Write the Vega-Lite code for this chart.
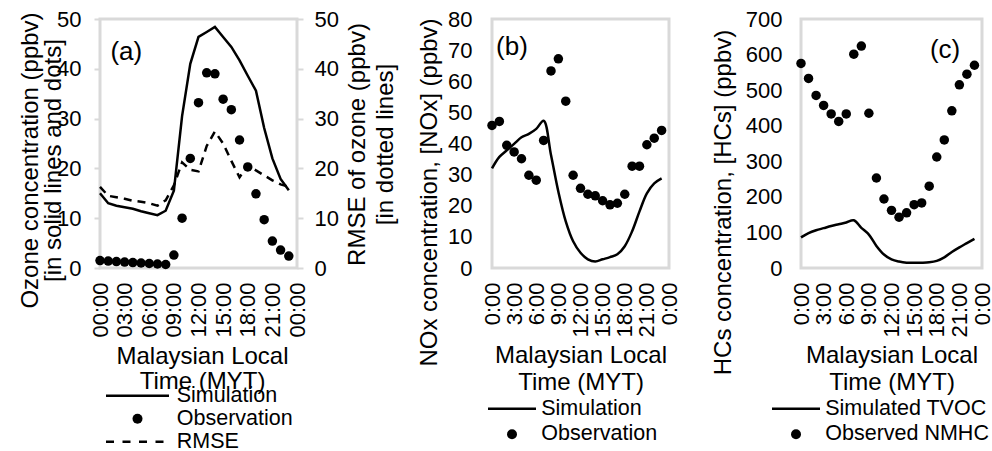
{
  "$schema": "https://vega.github.io/schema/vega-lite/v6.json",
  "padding": {"left": 16, "top": 6, "right": 0, "bottom": 0},
  "background": "white",
  "datasets": {
    "a": [
      {"hour":0,"series":"Simulation","value":15.0},{"hour":1,"series":"Simulation","value":13.0},{"hour":2,"series":"Simulation","value":12.5},{"hour":3,"series":"Simulation","value":12.2},{"hour":4,"series":"Simulation","value":11.9},{"hour":5,"series":"Simulation","value":11.4},{"hour":6,"series":"Simulation","value":11.0},{"hour":7,"series":"Simulation","value":10.6},{"hour":8,"series":"Simulation","value":11.5},{"hour":9,"series":"Simulation","value":15.5},{"hour":10,"series":"Simulation","value":30.5},{"hour":11,"series":"Simulation","value":41.0},{"hour":12,"series":"Simulation","value":46.4},{"hour":13,"series":"Simulation","value":47.4},{"hour":14,"series":"Simulation","value":48.4},{"hour":15,"series":"Simulation","value":46.4},{"hour":16,"series":"Simulation","value":44.4},{"hour":17,"series":"Simulation","value":41.7},{"hour":18,"series":"Simulation","value":38.6},{"hour":19,"series":"Simulation","value":35.6},{"hour":20,"series":"Simulation","value":28.1},{"hour":21,"series":"Simulation","value":22.0},{"hour":22,"series":"Simulation","value":17.9},{"hour":23,"series":"Simulation","value":15.6},
      {"hour":0,"series":"Observation","value":1.5},{"hour":1,"series":"Observation","value":1.4},{"hour":2,"series":"Observation","value":1.3},{"hour":3,"series":"Observation","value":1.2},{"hour":4,"series":"Observation","value":1.1},{"hour":5,"series":"Observation","value":1.0},{"hour":6,"series":"Observation","value":0.9},{"hour":7,"series":"Observation","value":0.8},{"hour":8,"series":"Observation","value":0.7},{"hour":9,"series":"Observation","value":2.6},{"hour":10,"series":"Observation","value":10.0},{"hour":11,"series":"Observation","value":22.0},{"hour":12,"series":"Observation","value":33.2},{"hour":13,"series":"Observation","value":39.2},{"hour":14,"series":"Observation","value":39.0},{"hour":15,"series":"Observation","value":33.9},{"hour":16,"series":"Observation","value":31.8},{"hour":17,"series":"Observation","value":25.7},{"hour":18,"series":"Observation","value":20.3},{"hour":19,"series":"Observation","value":14.9},{"hour":20,"series":"Observation","value":9.7},{"hour":21,"series":"Observation","value":5.4},{"hour":22,"series":"Observation","value":3.6},{"hour":23,"series":"Observation","value":2.4},
      {"hour":0,"series":"RMSE","value":16.3},{"hour":1,"series":"RMSE","value":14.5},{"hour":2,"series":"RMSE","value":14.2},{"hour":3,"series":"RMSE","value":13.9},{"hour":4,"series":"RMSE","value":13.5},{"hour":5,"series":"RMSE","value":13.3},{"hour":6,"series":"RMSE","value":13.0},{"hour":7,"series":"RMSE","value":12.5},{"hour":8,"series":"RMSE","value":13.6},{"hour":9,"series":"RMSE","value":16.6},{"hour":10,"series":"RMSE","value":21.2},{"hour":11,"series":"RMSE","value":19.7},{"hour":12,"series":"RMSE","value":19.4},{"hour":13,"series":"RMSE","value":24.5},{"hour":14,"series":"RMSE","value":27.4},{"hour":15,"series":"RMSE","value":25.0},{"hour":16,"series":"RMSE","value":21.5},{"hour":17,"series":"RMSE","value":18.2},{"hour":18,"series":"RMSE","value":20.7},{"hour":19,"series":"RMSE","value":19.6},{"hour":20,"series":"RMSE","value":18.6},{"hour":21,"series":"RMSE","value":17.6},{"hour":22,"series":"RMSE","value":16.8},{"hour":23,"series":"RMSE","value":16.3}
    ],
    "b": [
      {"hour":0,"series":"Simulation","value":32.0},{"hour":1,"series":"Simulation","value":35.7},{"hour":2,"series":"Simulation","value":37.8},{"hour":3,"series":"Simulation","value":39.9},{"hour":4,"series":"Simulation","value":42.0},{"hour":5,"series":"Simulation","value":43.1},{"hour":6,"series":"Simulation","value":44.7},{"hour":7,"series":"Simulation","value":47.3},{"hour":8,"series":"Simulation","value":36.3},{"hour":9,"series":"Simulation","value":24.5},{"hour":10,"series":"Simulation","value":15.0},{"hour":11,"series":"Simulation","value":8.6},{"hour":12,"series":"Simulation","value":4.9},{"hour":13,"series":"Simulation","value":2.8},{"hour":14,"series":"Simulation","value":2.1},{"hour":15,"series":"Simulation","value":2.8},{"hour":16,"series":"Simulation","value":3.5},{"hour":17,"series":"Simulation","value":4.4},{"hour":18,"series":"Simulation","value":7.0},{"hour":19,"series":"Simulation","value":11.8},{"hour":20,"series":"Simulation","value":18.2},{"hour":21,"series":"Simulation","value":24.0},{"hour":22,"series":"Simulation","value":27.2},{"hour":23,"series":"Simulation","value":28.8},
      {"hour":0,"series":"Observation","value":45.8},{"hour":1,"series":"Observation","value":47.1},{"hour":2,"series":"Observation","value":39.4},{"hour":3,"series":"Observation","value":37.3},{"hour":4,"series":"Observation","value":35.1},{"hour":5,"series":"Observation","value":29.8},{"hour":6,"series":"Observation","value":28.2},{"hour":7,"series":"Observation","value":41.0},{"hour":8,"series":"Observation","value":63.3},{"hour":9,"series":"Observation","value":67.2},{"hour":10,"series":"Observation","value":53.6},{"hour":11,"series":"Observation","value":29.8},{"hour":12,"series":"Observation","value":25.6},{"hour":13,"series":"Observation","value":23.7},{"hour":14,"series":"Observation","value":23.2},{"hour":15,"series":"Observation","value":21.6},{"hour":16,"series":"Observation","value":20.3},{"hour":17,"series":"Observation","value":20.8},{"hour":18,"series":"Observation","value":23.7},{"hour":19,"series":"Observation","value":32.7},{"hour":20,"series":"Observation","value":32.7},{"hour":21,"series":"Observation","value":39.6},{"hour":22,"series":"Observation","value":41.7},{"hour":23,"series":"Observation","value":44.2}
    ],
    "c": [
      {"hour":0,"series":"Simulated TVOC","value":86},{"hour":1,"series":"Simulated TVOC","value":98},{"hour":2,"series":"Simulated TVOC","value":106},{"hour":3,"series":"Simulated TVOC","value":112},{"hour":4,"series":"Simulated TVOC","value":118},{"hour":5,"series":"Simulated TVOC","value":123},{"hour":6,"series":"Simulated TVOC","value":128},{"hour":7,"series":"Simulated TVOC","value":134},{"hour":8,"series":"Simulated TVOC","value":113},{"hour":9,"series":"Simulated TVOC","value":94},{"hour":10,"series":"Simulated TVOC","value":62},{"hour":11,"series":"Simulated TVOC","value":38},{"hour":12,"series":"Simulated TVOC","value":24},{"hour":13,"series":"Simulated TVOC","value":18},{"hour":14,"series":"Simulated TVOC","value":15},{"hour":15,"series":"Simulated TVOC","value":15},{"hour":16,"series":"Simulated TVOC","value":15},{"hour":17,"series":"Simulated TVOC","value":16},{"hour":18,"series":"Simulated TVOC","value":20},{"hour":19,"series":"Simulated TVOC","value":30},{"hour":20,"series":"Simulated TVOC","value":45},{"hour":21,"series":"Simulated TVOC","value":58},{"hour":22,"series":"Simulated TVOC","value":70},{"hour":23,"series":"Simulated TVOC","value":82},
      {"hour":0,"series":"Observed NMHC","value":575},{"hour":1,"series":"Observed NMHC","value":533},{"hour":2,"series":"Observed NMHC","value":485},{"hour":3,"series":"Observed NMHC","value":457},{"hour":4,"series":"Observed NMHC","value":433},{"hour":5,"series":"Observed NMHC","value":412},{"hour":6,"series":"Observed NMHC","value":433},{"hour":7,"series":"Observed NMHC","value":601},{"hour":8,"series":"Observed NMHC","value":624},{"hour":9,"series":"Observed NMHC","value":435},{"hour":10,"series":"Observed NMHC","value":253},{"hour":11,"series":"Observed NMHC","value":194},{"hour":12,"series":"Observed NMHC","value":162},{"hour":13,"series":"Observed NMHC","value":143},{"hour":14,"series":"Observed NMHC","value":155},{"hour":15,"series":"Observed NMHC","value":178},{"hour":16,"series":"Observed NMHC","value":183},{"hour":17,"series":"Observed NMHC","value":230},{"hour":18,"series":"Observed NMHC","value":312},{"hour":19,"series":"Observed NMHC","value":360},{"hour":20,"series":"Observed NMHC","value":442},{"hour":21,"series":"Observed NMHC","value":515},{"hour":22,"series":"Observed NMHC","value":545},{"hour":23,"series":"Observed NMHC","value":570}
    ]
  },
  "spacing": 195,
  "bounds": "flush",
  "resolve": {"scale": {"color": "independent"}, "legend": {"color": "independent"}},
  "hconcat": [
    {
      "width": 197,
      "height": 249,
      "data": {"name": "a"},
      "resolve": {"scale": {"y": "independent"}},
      "layer": [
        {
          "layer": [
            {
              "transform": [{"filter": "datum.series == 'Simulation'"}],
              "mark": {"type": "line", "strokeWidth": 2.5},
              "encoding": {
                "x": {"field": "hour", "type": "quantitative", "scale": {"domain": [0, 24], "nice": false, "zero": false},
                  "axis": {"values": [0,3,6,9,12,15,18,21,24], "tickCount": 9, "labelExpr": "(datum.value % 24 < 10 ? '0' : '') + (datum.value % 24) + ':00'", "labelAngle": 270, "labelPadding": 14, "ticks": false, "tickSize": 0, "labelFlush": false, "labelOverlap": false, "labelBound": false,
                    "title": ["Malaysian Local", "Time (MYT)"], "titleLineHeight": 25, "titleBaseline": "alphabetic", "titleX": 102, "titleY": 95}},
                "y": {"field": "value", "type": "quantitative", "scale": {"domain": [0, 50], "nice": false},
                  "axis": {"values": [0,10,20,30,40,50], "tickCount": 6, "labelOverlap": false, "ticks": true, "tickSize": 6, "tickColor": "#d9d9d9", "tickWidth": 2, "labelPadding": 13,
                    "title": ["Ozone concentration (ppbv)", "[in solid lines and dots]"], "titleAngle": 270, "titleBaseline": "alphabetic", "titleAlign": "center", "titleX": -63, "titleY": 141, "titleLineHeight": 23}},
                "color": {"field": "series", "type": "nominal", "scale": {"domain": ["Simulation", "Observation", "RMSE"], "range": ["#000", "#000", "#000"]},
                  "legend": {"orient": "none", "legendX": 6, "legendY": 366, "direction": "vertical", "title": null, "labelFontSize": 21.5, "labelOffset": 28.5, "symbolOffset": 20.75, "rowPadding": 0, "labelLimit": 300,
                    "encode": {"symbols": {"update": {
                      "shape": {"signal": "datum.value == 'Observation' ? 'circle' : 'M-6.3,0H6.3'"},
                      "strokeDash": {"signal": "datum.value == 'RMSE' ? [8,8.5] : [1,0]"},
                      "fill": {"signal": "datum.value == 'Observation' ? '#000' : 'transparent'"},
                      "stroke": {"value": "#000"},
                      "strokeWidth": {"signal": "datum.value == 'Observation' ? 0 : 2.5"},
                      "size": {"value": 100},
                      "opacity": {"value": 1}}}}}}
              }
            },
            {
              "transform": [{"filter": "datum.series == 'Observation'"}],
              "mark": {"type": "point", "filled": true, "shape": "circle", "size": 90, "opacity": 1},
              "encoding": {
                "x": {"field": "hour", "type": "quantitative"},
                "y": {"field": "value", "type": "quantitative"},
                "color": {"field": "series", "type": "nominal"}
              }
            },
            {
              "data": {"values": [{"label": "(a)"}]},
              "mark": {"type": "text", "fontSize": 26, "align": "center", "baseline": "middle", "color": "#000"},
              "encoding": {
                "x": {"datum": 3.2, "type": "quantitative"},
                "y": {"datum": 43.4, "type": "quantitative"},
                "text": {"field": "label"}
              }
            }
          ]
        },
        {
          "transform": [{"filter": "datum.series == 'RMSE'"}],
          "mark": {"type": "line", "strokeWidth": 2.5, "strokeDash": [8, 6]},
          "encoding": {
            "x": {"field": "hour", "type": "quantitative"},
            "y": {"field": "value", "type": "quantitative", "scale": {"domain": [0, 50], "nice": false},
              "axis": {"orient": "right", "values": [0,10,20,30,40,50], "tickCount": 6, "labelOverlap": false, "ticks": true, "tickSize": 6, "tickColor": "#d9d9d9", "tickWidth": 2, "labelPadding": 11,
                "title": ["RMSE of ozone (ppbv)", "[in dotted lines]"], "titleAngle": 270, "titleBaseline": "alphabetic", "titleAlign": "center", "titleX": 67, "titleY": 125, "titleLineHeight": 28}},
            "color": {"field": "series", "type": "nominal"}
          }
        }
      ]
    },
    {
      "spacing": 132,
      "bounds": "flush",
      "resolve": {"scale": {"color": "independent"}, "legend": {"color": "independent"}},
      "hconcat": [
        {
          "width": 177,
          "height": 249,
          "data": {"name": "b"},
          "layer": [
            {
              "transform": [{"filter": "datum.series == 'Simulation'"}],
              "mark": {"type": "line", "strokeWidth": 2.5, "interpolate": "catmull-rom"},
              "encoding": {
                "x": {"field": "hour", "type": "quantitative", "scale": {"domain": [0, 24], "nice": false, "zero": false},
                  "axis": {"values": [0,3,6,9,12,15,18,21,24], "tickCount": 9, "labelExpr": "(datum.value % 24) + ':00'", "labelAngle": 270, "labelPadding": 14, "ticks": false, "tickSize": 0, "labelFlush": false, "labelOverlap": false, "labelBound": false,
                    "title": ["Malaysian Local", "Time (MYT)"], "titleLineHeight": 27, "titleBaseline": "alphabetic", "titleY": 94}},
                "y": {"field": "value", "type": "quantitative", "scale": {"domain": [0, 80], "nice": false},
                  "axis": {"values": [0,10,20,30,40,50,60,70,80], "tickCount": 9, "labelOverlap": false, "ticks": false, "tickSize": 0, "labelPadding": 20,
                    "title": "NOx concentration, [NOx] (ppbv)", "titleAngle": 270, "titleBaseline": "alphabetic", "titleAlign": "center", "titleX": -56, "titleY": 173}},
                "color": {"field": "series", "type": "nominal", "scale": {"domain": ["Simulation", "Observation"], "range": ["#000", "#000"]},
                  "legend": {"orient": "none", "legendX": -4, "legendY": 379, "direction": "vertical", "title": null, "labelFontSize": 21.5, "labelOffset": 18.5, "symbolOffset": 13.25, "rowPadding": 2.5, "labelLimit": 300,
                    "encode": {"symbols": {"update": {
                      "shape": {"signal": "datum.value == 'Observation' ? 'circle' : 'M-4.8,0H4.8'"},
                      "fill": {"signal": "datum.value == 'Observation' ? '#000' : 'transparent'"},
                      "stroke": {"value": "#000"},
                      "strokeWidth": {"signal": "datum.value == 'Observation' ? 0 : 2.5"},
                      "size": {"value": 100},
                      "opacity": {"value": 1}}}}}}
              }
            },
            {
              "transform": [{"filter": "datum.series == 'Observation'"}],
              "mark": {"type": "point", "filled": true, "shape": "circle", "size": 90, "opacity": 1},
              "encoding": {
                "x": {"field": "hour", "type": "quantitative"},
                "y": {"field": "value", "type": "quantitative"},
                "color": {"field": "series", "type": "nominal"}
              }
            },
            {
              "data": {"values": [{"label": "(b)"}]},
              "mark": {"type": "text", "fontSize": 26, "align": "center", "baseline": "middle", "color": "#000"},
              "encoding": {
                "x": {"datum": 2.7, "type": "quantitative"},
                "y": {"datum": 71, "type": "quantitative"},
                "text": {"field": "label"}
              }
            }
          ]
        },
        {
          "width": 181,
          "height": 249,
          "data": {"name": "c"},
          "layer": [
            {
              "transform": [{"filter": "datum.series == 'Simulated TVOC'"}],
              "mark": {"type": "line", "strokeWidth": 2.5, "interpolate": "catmull-rom"},
              "encoding": {
                "x": {"field": "hour", "type": "quantitative", "scale": {"domain": [0, 24], "nice": false, "zero": false},
                  "axis": {"values": [0,3,6,9,12,15,18,21,24], "tickCount": 9, "labelExpr": "(datum.value % 24) + ':00'", "labelAngle": 270, "labelPadding": 14, "ticks": false, "tickSize": 0, "labelFlush": false, "labelOverlap": false, "labelBound": false,
                    "title": ["Malaysian Local", "Time (MYT)"], "titleLineHeight": 27, "titleBaseline": "alphabetic", "titleY": 94}},
                "y": {"field": "value", "type": "quantitative", "scale": {"domain": [0, 700], "nice": false},
                  "axis": {"values": [0,100,200,300,400,500,600,700], "tickCount": 8, "labelOverlap": false, "ticks": false, "tickSize": 0, "labelPadding": 19,
                    "title": "HCs concentration, [HCs] (ppbv)", "titleAngle": 270, "titleBaseline": "alphabetic", "titleAlign": "center", "titleX": -71, "titleY": 183}},
                "color": {"field": "series", "type": "nominal", "scale": {"domain": ["Simulated TVOC", "Observed NMHC"], "range": ["#000", "#000"]},
                  "legend": {"orient": "none", "legendX": -29, "legendY": 379, "direction": "vertical", "title": null, "labelFontSize": 21.5, "labelOffset": 18.5, "symbolOffset": 13.25, "rowPadding": 2.5, "labelLimit": 300,
                    "encode": {"symbols": {"update": {
                      "shape": {"signal": "datum.value == 'Observed NMHC' ? 'circle' : 'M-4.8,0H4.8'"},
                      "fill": {"signal": "datum.value == 'Observed NMHC' ? '#000' : 'transparent'"},
                      "stroke": {"value": "#000"},
                      "strokeWidth": {"signal": "datum.value == 'Observed NMHC' ? 0 : 2.5"},
                      "size": {"value": 100},
                      "opacity": {"value": 1}}}}}}
              }
            },
            {
              "transform": [{"filter": "datum.series == 'Observed NMHC'"}],
              "mark": {"type": "point", "filled": true, "shape": "circle", "size": 90, "opacity": 1},
              "encoding": {
                "x": {"field": "hour", "type": "quantitative"},
                "y": {"field": "value", "type": "quantitative"},
                "color": {"field": "series", "type": "nominal"}
              }
            },
            {
              "data": {"values": [{"label": "(c)"}]},
              "mark": {"type": "text", "fontSize": 26, "align": "center", "baseline": "middle", "color": "#000"},
              "encoding": {
                "x": {"datum": 19.1, "type": "quantitative"},
                "y": {"datum": 613, "type": "quantitative"},
                "text": {"field": "label"}
              }
            }
          ]
        }
      ]
    }
  ],
  "config": {
    "font": "Liberation Sans",
    "view": {"stroke": "#d9d9d9", "strokeWidth": 3},
    "axis": {"grid": false, "domain": false, "labelFontSize": 22, "labelColor": "#000", "titleFontSize": 24, "titleFontWeight": "normal", "titleColor": "#000"},
    "legend": {"labelFontSize": 21.5, "labelColor": "#000"},
    "text": {"font": "Liberation Sans"}
  }
}
